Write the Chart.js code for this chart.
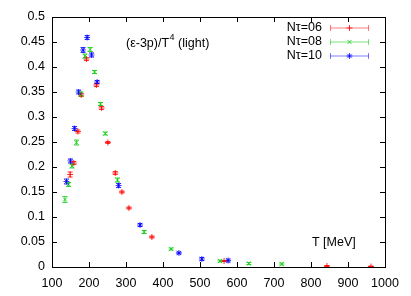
<!DOCTYPE html>
<html>
<head>
<meta charset="utf-8">
<script src="https://cdn.jsdelivr.net/npm/chart.js@4/dist/chart.umd.min.js"></script>
<style>
  html, body { margin: 0; padding: 0; background: #fff; }
  #wrap { width: 411px; height: 296px; }
</style>
</head>
<body>
<div id="wrap"><canvas id="c" width="411" height="296"></canvas></div>
<script>
// Nt=06 (red +)
const t06 = [149, 159, 170, 179, 193, 220, 234, 251, 271, 289, 308, 370, 565, 843, 962]
const v06 = [0.185, 0.208, 0.271, 0.344, 0.416, 0.364, 0.318, 0.249, 0.188, 0.150, 0.118, 0.060, 0.012, 0.002, 0.001]
const e06 = [0.005, 0.003, 0.003, 0.003, 0.003, 0.003, 0.003, 0.002, 0.003, 0.002, 0.002, 0.002, 0.001, 0.001, 0.001]

// Nt=08 (green x)
const t08 = [135, 145, 154, 166, 178, 189, 203, 215, 231, 244, 277, 349, 422, 554, 632, 721]
const v08 = [0.135, 0.165, 0.202, 0.249, 0.346, 0.422, 0.435, 0.390, 0.326, 0.267, 0.174, 0.070, 0.036, 0.012, 0.007, 0.006]
const e08 = [0.006, 0.004, 0.004, 0.005, 0.004, 0.004, 0.004, 0.003, 0.003, 0.003, 0.004, 0.003, 0.002, 0.002, 0.002, 0.002]

// Nt=10 (blue *)
const t10 = [139, 150, 161, 172, 184, 195, 207, 222, 280, 338, 443, 505, 576]
const v10 = [0.171, 0.212, 0.277, 0.350, 0.434, 0.459, 0.424, 0.370, 0.163, 0.084, 0.028, 0.016, 0.013]
const e10 = [0.005, 0.004, 0.004, 0.004, 0.005, 0.004, 0.004, 0.003, 0.004, 0.003, 0.002, 0.003, 0.003]

const seriesNames = ["N\u03c4=06", "N\u03c4=08", "N\u03c4=10"]
const colors = ["rgba(255,0,0,0.8)", "rgba(0,200,0,0.75)", "rgba(0,0,255,0.75)"]
const pointStyles = ["cross", "crossRot", "star"]
const errs = [e06, e08, e10]

const xTicks = [100, 200, 300, 400, 500, 600, 700, 800, 900, 1000]

const FONT = '"Liberation Sans", Arial, sans-serif'

const toPts = (xs, ys) => xs.map((x, i) => ({ x: x, y: ys[i] }))

// gnuplot style error bars with small caps
const errorBars = {
  id: "errorBars",
  afterDatasetsDraw(chart) {
    const ctx = chart.ctx
    const ys = chart.scales.y
    chart.data.datasets.forEach((ds, di) => {
      const meta = chart.getDatasetMeta(di)
      ctx.save()
      ctx.strokeStyle = colors[di]
      ctx.lineWidth = 1
      meta.data.forEach((pt, i) => {
        const v = ds.data[i].y
        const e = errs[di][i]
        const x = pt.x
        const y1 = ys.getPixelForValue(v - e)
        const y2 = ys.getPixelForValue(v + e)
        ctx.beginPath()
        ctx.moveTo(x, y1); ctx.lineTo(x, y2)
        ctx.moveTo(x - 2.5, y1); ctx.lineTo(x + 2.5, y1)
        ctx.moveTo(x - 2.5, y2); ctx.lineTo(x + 2.5, y2)
        ctx.stroke()
      })
      ctx.restore()
    })
  },
}

// frame, inward ticks, legend and labels
const decor = {
  id: "decor",
  afterDraw(chart) {
    const ctx = chart.ctx
    const a = chart.chartArea
    const xs = chart.scales.x
    const ys = chart.scales.y
    ctx.save()
    ctx.strokeStyle = "#000"
    ctx.lineWidth = 1
    ctx.strokeRect(Math.round(a.left) + 0.5, Math.round(a.top) + 0.5, Math.round(a.right - a.left), Math.round(a.bottom - a.top))
    ctx.beginPath()
    xs.ticks.forEach(t => {
      const x = Math.round(xs.getPixelForValue(t.value)) + 0.5
      ctx.moveTo(x, a.bottom); ctx.lineTo(x, a.bottom - 5)
      ctx.moveTo(x, a.top); ctx.lineTo(x, a.top + 5)
    })
    ys.ticks.forEach(t => {
      const y = Math.round(ys.getPixelForValue(t.value)) + 0.5
      ctx.moveTo(a.left, y); ctx.lineTo(a.left + 5, y)
      ctx.moveTo(a.right, y); ctx.lineTo(a.right - 5, y)
    })
    ctx.stroke()

    // title inside the plot
    ctx.fillStyle = "#000"
    ctx.textBaseline = "middle"
    ctx.textAlign = "left"
    ctx.font = "12.5px " + FONT
    let tx = 126
    const p1 = "(\u03b5-3p)/T"
    ctx.fillText(p1, tx, 44)
    tx += ctx.measureText(p1).width
    ctx.font = "9px " + FONT
    ctx.fillText("4", tx + 0.5, 38)
    tx += ctx.measureText("4").width + 0.5
    ctx.font = "12.5px " + FONT
    ctx.fillText(" (light)", tx, 44)

    ctx.fillText("T [MeV]", 312, 243)

    // legend
    seriesNames.forEach((name, i) => {
      const y = 28 + i * 14
      ctx.fillStyle = "#000"
      ctx.textAlign = "right"
      ctx.font = "12.5px " + FONT
      ctx.fillText(name, 322, y)
      const yy = y
      ctx.strokeStyle = colors[i].replace(/[\d.]+\)$/, "0.5)")
      ctx.beginPath()
      ctx.moveTo(330, yy); ctx.lineTo(369, yy)
      ctx.moveTo(330.5, yy - 3); ctx.lineTo(330.5, yy + 3)
      ctx.moveTo(368.5, yy - 3); ctx.lineTo(368.5, yy + 3)
      ctx.stroke()
      ctx.strokeStyle = colors[i]
      Chart.helpers.drawPoint(ctx, { pointStyle: pointStyles[i], radius: 3, borderWidth: 1 }, 349.5, yy)
    })
    ctx.restore()
  },
}

new Chart(document.getElementById("c"), {
  type: "scatter",
  data: {
    datasets: [
      { label: seriesNames[0], data: toPts(t06, v06) },
      { label: seriesNames[1], data: toPts(t08, v08) },
      { label: seriesNames[2], data: toPts(t10, v10) },
    ].map((ds, i) => Object.assign(ds, {
      pointStyle: pointStyles[i],
      pointRadius: 3,
      pointBorderWidth: 1,
      borderColor: colors[i],
      backgroundColor: colors[i],
      showLine: false,
    })),
  },
  options: {
    responsive: false,
    animation: false,
    layout: { padding: { top: 17, right: 26, left: 0, bottom: 0 } },
    plugins: { legend: { display: false }, tooltip: { enabled: false } },
    scales: {
      x: {
        type: "linear",
        min: 100,
        max: 1000,
        afterBuildTicks: s => { s.ticks = xTicks.map(v => ({ value: v })) },
        afterFit: s => { s.height = 29 },
        grid: { display: false, drawTicks: false },
        border: { display: false },
        ticks: { color: "#000", padding: 9, maxRotation: 0, font: { family: FONT, size: 12.5 }, callback: v => String(v) },
      },
      y: {
        min: 0,
        max: 0.5,
        afterFit: s => { s.width = 52 },
        grid: { display: false, drawTicks: false },
        border: { display: false },
        ticks: { color: "#000", padding: 7, stepSize: 0.05, font: { family: FONT, size: 12.5 }, callback: v => String(+v.toFixed(2)) },
      },
    },
  },
  plugins: [errorBars, decor],
})
</script>
</body>
</html>
